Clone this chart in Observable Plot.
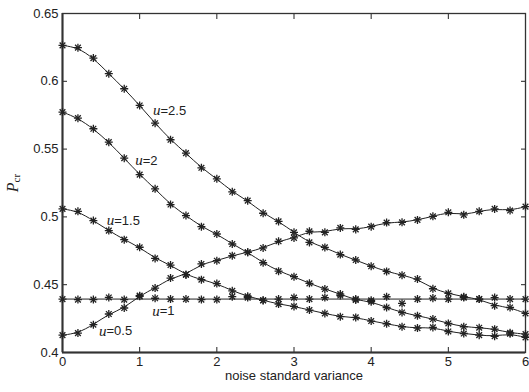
<!DOCTYPE html>
<html><head><meta charset="utf-8">
<script src="https://cdn.jsdelivr.net/npm/d3@7"></script>
<script src="https://cdn.jsdelivr.net/npm/@observablehq/plot@0.6"></script>
<style>body{margin:0;background:#fff} svg{display:block}</style>
</head><body><div id="chart"></div>
<script>
const xs = [0,0.2,0.4,0.6,0.8,1,1.2,1.4,1.6,1.8,2,2.2,2.4,2.6,2.8,3,3.2,3.4,3.6,3.8,4,4.2,4.4,4.6,4.8,5,5.2,5.4,5.6,5.8,6];
const u05 = [0.4128,0.4143,0.4205,0.4284,0.4328,0.4419,0.4475,0.4549,0.4574,0.4653,0.4677,0.4714,0.4739,0.4771,0.4820,0.4845,0.4894,0.4886,0.4919,0.4908,0.4928,0.4958,0.4960,0.4978,0.5004,0.5034,0.5015,0.5041,0.5059,0.5047,0.5076];
const u10 = [0.4394,0.4390,0.4390,0.4406,0.4390,0.4414,0.4400,0.4394,0.4394,0.4390,0.4390,0.4412,0.4405,0.4384,0.4394,0.4405,0.4394,0.4405,0.4420,0.4394,0.4385,0.4411,0.4362,0.4394,0.4401,0.4394,0.4405,0.4394,0.4405,0.4394,0.4394];
const u15 = [0.5059,0.5041,0.4973,0.4899,0.4832,0.4776,0.4694,0.4645,0.4574,0.4537,0.4508,0.4455,0.4415,0.4385,0.4357,0.4340,0.4313,0.4288,0.4264,0.4259,0.4232,0.4212,0.4190,0.4180,0.4185,0.4155,0.4140,0.4128,0.4120,0.4138,0.4111];
const u20 = [0.5773,0.5728,0.5650,0.5551,0.5433,0.5312,0.5207,0.5091,0.5010,0.4928,0.4874,0.4800,0.4739,0.4662,0.4600,0.4559,0.4510,0.4468,0.4431,0.4387,0.4375,0.4332,0.4295,0.4271,0.4247,0.4214,0.4190,0.4183,0.4172,0.4145,0.4136];
const u25 = [0.6265,0.6248,0.6171,0.6056,0.5945,0.5822,0.5691,0.5569,0.5470,0.5362,0.5281,0.5185,0.5120,0.5027,0.4967,0.4886,0.4812,0.4775,0.4722,0.4682,0.4636,0.4598,0.4570,0.4542,0.4470,0.4436,0.4411,0.4394,0.4345,0.4332,0.4288];
const u1Fit = 0.4394;
const xTicks = [0,1,2,3,4,5,6];
const yTicks = [0.4,0.45,0.5,0.55,0.6,0.65];
const labelValues = ["=2.5","=2","=1.5","=1","=0.5"];
const labelX = [1.27,1.04,0.67,1.26,0.57];
const labelY = [0.5785,0.5415,0.4973,0.4308,0.416];

const series = [["u=0.5",u05],["u=1",u10],["u=1.5",u15],["u=2",u20],["u=2.5",u25]];
const rows = series.flatMap(([name, vals]) => vals.map((v, i) => ({x: xs[i], y: v, series: name})));
const smoothRows = rows.filter(d => d.series !== "u=1");
const labels = labelValues.map((t, i) => ({t, x: labelX[i], y: labelY[i]}));

const ink = "#222";
const chart = Plot.plot({
  width: 529, height: 392,
  marginLeft: 62, marginRight: 4, marginTop: 13, marginBottom: 40,
  style: {fontFamily: "'Liberation Sans', Arial, sans-serif", fontSize: "13px", background: "#fff", color: "#222"},
  x: {domain: [0, 6]},
  y: {domain: [0.4, 0.65]},
  marks: [
    Plot.axisX({ticks: xTicks, tickSize: -5, tickPadding: 9, tickFormat: d => String(d), label: null, fontSize: 13}),
    Plot.axisX({anchor: "top", ticks: xTicks, tickSize: -5, tickFormat: () => "", label: null}),
    Plot.axisY({ticks: yTicks, tickSize: -5, tickPadding: 9, tickFormat: d => String(+d.toFixed(2)), label: null, fontSize: 13}),
    Plot.axisY({anchor: "right", ticks: yTicks, tickSize: -5, tickFormat: () => "", label: null}),
    Plot.frame({stroke: "#333", strokeWidth: 1.3}),
    Plot.ruleX([0], {stroke: "#333", strokeWidth: 2}),
    Plot.ruleY([0.4], {stroke: "#333", strokeWidth: 2}),
    Plot.ruleY([u1Fit], {stroke: ink, strokeWidth: 1}),
    Plot.line(smoothRows, {x: "x", y: "y", z: "series", curve: "basis", stroke: ink, strokeWidth: 1}),
    Plot.dot(rows, {x: "x", y: "y", symbol: "plus", r: 2.7, stroke: ink, strokeWidth: 1.3}),
    Plot.dot(rows, {x: "x", y: "y", symbol: "times", r: 2.7, stroke: ink, strokeWidth: 1.3}),
    Plot.text(labels, {x: "x", y: "y", text: () => "u", textAnchor: "end", fontStyle: "italic", fontFamily: "'Liberation Serif', serif", fontSize: 15, fill: ink}),
    Plot.text(labels, {x: "x", y: "y", text: "t", textAnchor: "start", fontSize: 13, fill: ink}),
    Plot.text(["noise standard variance"], {frameAnchor: "bottom", dy: 27, fontSize: 13, fill: ink})
  ]
});
const svg = d3.select(chart);
const yl = svg.append("text")
  .attr("transform", "translate(18,183) rotate(-90)")
  .attr("text-anchor", "middle")
  .attr("fill", ink)
  .attr("font-family", "'Liberation Serif', serif");
yl.append("tspan").attr("font-style", "italic").attr("font-size", 16).text("P");
yl.append("tspan").attr("font-size", 11).attr("dy", 2).text("cr");
document.getElementById("chart").appendChild(chart);
</script>
</body></html>
